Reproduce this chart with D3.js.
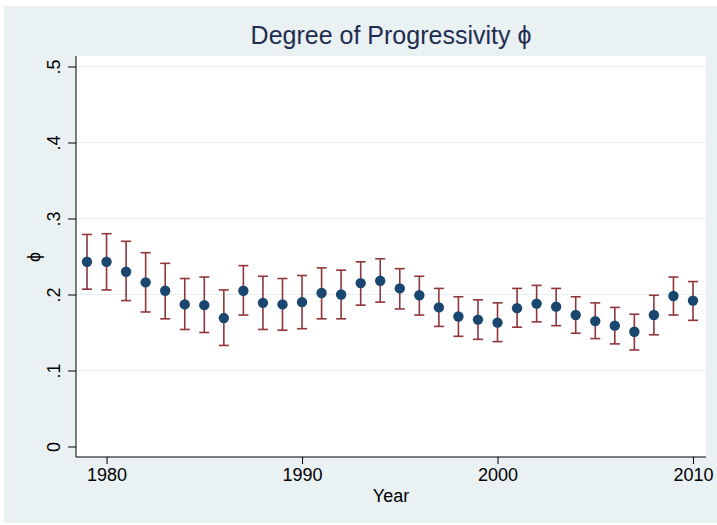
<!DOCTYPE html>
<html>
<head>
<meta charset="utf-8">
<script src="https://cdn.jsdelivr.net/npm/d3@7"></script>
<style>
  body { margin: 0; background: #ffffff; }
  svg { display: block; font-family: "Liberation Sans", Arial, Helvetica, sans-serif; }
</style>
</head>
<body>
<div id="chart"></div>
<script>
// values
let years = d3.range(1979, 2011);
let phi = [0.243, 0.243, 0.230, 0.216, 0.205, 0.187, 0.186, 0.169, 0.205, 0.189,
           0.187, 0.190, 0.202, 0.200, 0.215, 0.218, 0.208, 0.199, 0.183, 0.171,
           0.167, 0.163, 0.182, 0.188, 0.184, 0.173, 0.165, 0.159, 0.151, 0.173,
           0.198, 0.192];
let upper = [0.279, 0.280, 0.270, 0.255, 0.241, 0.221, 0.223, 0.206, 0.238, 0.224,
             0.221, 0.225, 0.235, 0.232, 0.243, 0.247, 0.234, 0.224, 0.208, 0.197,
             0.193, 0.189, 0.208, 0.212, 0.208, 0.197, 0.189, 0.183, 0.174, 0.199,
             0.223, 0.217];
let lower = [0.207, 0.206, 0.192, 0.177, 0.168, 0.154, 0.150, 0.133, 0.173, 0.154,
             0.153, 0.155, 0.168, 0.168, 0.186, 0.190, 0.181, 0.173, 0.158, 0.145,
             0.141, 0.138, 0.157, 0.164, 0.159, 0.149, 0.142, 0.135, 0.127, 0.147,
             0.173, 0.166];
let yTicks = [0, 0.1, 0.2, 0.3, 0.4, 0.5];
let yTickLabels = ['0', '.1', '.2', '.3', '.4', '.5'];
let xTicks = [1980, 1990, 2000, 2010];

let width = 717, height = 525;
let plot = { left: 76, right: 706, top: 56, bottom: 457 };

let svg = d3.select('#chart').append('svg')
  .attr('width', width)
  .attr('height', height);

// outer graph region
svg.append('rect')
  .attr('x', 4).attr('y', 6)
  .attr('width', width - 4).attr('height', 517)
  .attr('fill', '#eaf1f3');

// plot region
svg.append('rect')
  .attr('x', plot.left).attr('y', plot.top)
  .attr('width', plot.right - plot.left).attr('height', plot.bottom - plot.top)
  .attr('fill', '#ffffff');

let x = d3.scaleLinear()
  .domain([1979, 2010])
  .range([87, 693]);

let y = d3.scaleLinear()
  .domain([0, 0.5])
  .range([446.5, 66.5]);

// gridlines
svg.append('g')
  .selectAll('line')
  .data(yTicks.slice(1))
  .enter()
  .append('line')
  .attr('x1', plot.left)
  .attr('x2', plot.right)
  .attr('y1', d => y(d))
  .attr('y2', d => y(d))
  .attr('stroke', '#e5eef0')
  .attr('stroke-width', 1);

// y axis
let yAxis = svg.append('g')
  .attr('transform', 'translate(' + plot.left + ',0)')
  .call(d3.axisLeft(y).tickValues(yTicks).tickSize(8).tickPadding(0)
    .tickFormat((d, i) => yTickLabels[i]));
yAxis.select('.domain').attr('d', 'M0,' + plot.top + 'V' + plot.bottom).attr('stroke', '#000');
yAxis.selectAll('.tick line').attr('stroke', '#000');
yAxis.selectAll('.tick text')
  .attr('x', 0).attr('dy', null)
  .attr('text-anchor', 'middle')
  .attr('transform', 'translate(-16,0) rotate(-90)')
  .attr('fill', '#000')
  .style('font-size', '18px');

// x axis
let xAxis = svg.append('g')
  .attr('transform', 'translate(0,' + plot.bottom + ')')
  .call(d3.axisBottom(x).tickValues(xTicks).tickSize(7).tickPadding(4)
    .tickFormat(d3.format('d')));
xAxis.select('.domain').attr('d', 'M' + plot.left + ',0H' + plot.right).attr('stroke', '#000');
xAxis.selectAll('.tick line').attr('stroke', '#000');
xAxis.selectAll('.tick text')
  .attr('fill', '#000')
  .style('font-size', '18px');

// error bars
let bars = svg.append('g')
  .selectAll('g')
  .data(years)
  .enter()
  .append('g')
  .attr('stroke', '#90353b')
  .attr('stroke-width', 1.6);

bars.append('line')
  .attr('x1', d => x(d)).attr('x2', d => x(d))
  .attr('y1', (d, i) => y(upper[i]))
  .attr('y2', (d, i) => y(lower[i]));
bars.append('line')
  .attr('x1', d => x(d) - 5).attr('x2', d => x(d) + 5)
  .attr('y1', (d, i) => y(upper[i]))
  .attr('y2', (d, i) => y(upper[i]));
bars.append('line')
  .attr('x1', d => x(d) - 5).attr('x2', d => x(d) + 5)
  .attr('y1', (d, i) => y(lower[i]))
  .attr('y2', (d, i) => y(lower[i]));

// points
svg.append('g')
  .selectAll('circle')
  .data(years)
  .enter()
  .append('circle')
  .attr('cx', d => x(d))
  .attr('cy', (d, i) => y(phi[i]))
  .attr('r', 5.2)
  .attr('fill', '#1a476f');

// titles
svg.append('text')
  .attr('x', 391).attr('y', 44)
  .attr('text-anchor', 'middle')
  .attr('fill', '#1e2d50')
  .style('font-size', '25px')
  .text('Degree of Progressivity \u03d5');

svg.append('text')
  .attr('x', 391).attr('y', 502)
  .attr('text-anchor', 'middle')
  .attr('fill', '#000')
  .style('font-size', '18px')
  .text('Year');

svg.append('text')
  .attr('transform', 'translate(40,257) rotate(-90)')
  .attr('text-anchor', 'middle')
  .attr('fill', '#000')
  .style('font-size', '18px')
  .text('\u03d5');
</script>
</body>
</html>
